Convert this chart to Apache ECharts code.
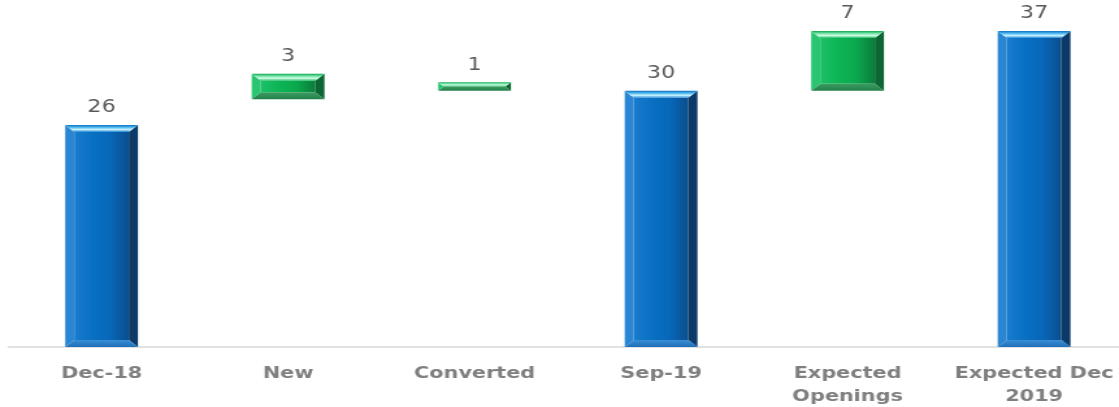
<!DOCTYPE html>
<html>
<head>
<meta charset="utf-8">
<script src="https://cdn.jsdelivr.net/npm/echarts@6/dist/echarts.min.js"></script>
<style>
  html, body { margin: 0; padding: 0; background: #ffffff; overflow: hidden; }
  /* the chart is laid out narrower and widened, giving the broad lettering and bars */
  #chart { width: 861px; height: 407px; transform: scaleX(1.29965); transform-origin: 0 0; }
</style>
</head>
<body>
<div id="chart"></div>
<script>
// Store count walk: opening total, additions, closing totals
const categories = ['Dec-18', 'New', 'Converted', 'Sep-19', 'Expected\nOpenings', 'Expected Dec\n2019'];
const startValues = [0, 29, 30, 0, 30, 0];
const changeValues = [26, 3, 1, 30, 7, 37];
const barKinds = ['total', 'delta', 'delta', 'total', 'delta', 'total'];

const palettes = {
  total: {
    face: ['#1a7ccd', '#0870c3', '#0867b8', '#0a4f8e'],
    left: '#2a86d2',
    right: '#0c3a68',
    top: ['#0f6fc0', '#4cb8f0', '#c9f3ff', '#2386d4'],
    bottom: ['#3a8fd6', '#1f6fb8']
  },
  delta: {
    face: ['#1cc069', '#0db555', '#0aa84d', '#0a7c3b'],
    left: '#2ac571',
    right: '#0c6633',
    top: ['#0da64f', '#6fe2a4', '#d2fde6', '#1dbb62'],
    bottom: ['#3b9d62', '#217f48']
  }
};

function vGrad(stops) {
  return new echarts.graphic.LinearGradient(0, 0, 0, 1,
    stops.map((c, k) => ({ offset: k / (stops.length - 1), color: c })));
}
function hGrad(stops) {
  return new echarts.graphic.LinearGradient(0, 0, 1, 0,
    stops.map((c, k) => ({ offset: k / (stops.length - 1), color: c })));
}

// Bevelled bar drawn from the axis coordinates of its start and end values
function renderBar(params, api) {
  const i = api.value(0);
  const base = api.value(1);
  const change = api.value(2);
  const pal = palettes[barKinds[i]];
  const p0 = api.coord([i, base]);
  const p1 = api.coord([i, base + change]);
  const w = api.size([1, 0])[0] * 0.39;
  const x0 = p0[0] - w / 2, x1 = p0[0] + w / 2;
  const yT = p1[1], yB = p0[1];
  const b = Math.min(7, (yB - yT) / 2);
  return {
    type: 'group',
    children: [
      { type: 'rect', shape: { x: x0 + b, y: yT + b, width: w - 2 * b, height: Math.max(0, yB - yT - 2 * b) },
        style: { fill: hGrad(pal.face) } },
      { type: 'polygon', shape: { points: [[x0, yT], [x0 + b, yT + b], [x0 + b, yB - b], [x0, yB]] },
        style: { fill: pal.left } },
      { type: 'polygon', shape: { points: [[x1, yT], [x1 - b, yT + b], [x1 - b, yB - b], [x1, yB]] },
        style: { fill: pal.right } },
      { type: 'polygon', shape: { points: [[x0, yT], [x1, yT], [x1 - b, yT + b], [x0 + b, yT + b]] },
        style: { fill: vGrad(pal.top) } },
      { type: 'polygon', shape: { points: [[x0 + b, yB - b], [x1 - b, yB - b], [x1, yB], [x0, yB]] },
        style: { fill: vGrad(pal.bottom) } },
      { type: 'text',
        style: { text: String(change), x: p0[0], y: yT - 17,
                 textAlign: 'center', textVerticalAlign: 'middle', align: 'center', verticalAlign: 'middle',
                 fill: '#595959', font: '17px "DejaVu Sans"' } }
    ]
  };
}

const chart = echarts.init(document.getElementById('chart'));
chart.setOption({
  animation: false,
  backgroundColor: '#ffffff',
  grid: { left: 6.4, right: -6.4, top: 31, bottom: 60, containLabel: false, outerBoundsMode: 'none' },
  xAxis: {
    type: 'category',
    data: categories,
    axisLine: { lineStyle: { color: '#d9d9d9', width: 1.5 } },
    axisTick: { show: false },
    axisLabel: {
      interval: 0, color: '#7f7f7f', fontWeight: 'bold', fontSize: 16,
      fontFamily: 'DejaVu Sans', lineHeight: 23, margin: 15
    },
    splitLine: { show: false }
  },
  yAxis: {
    type: 'value', min: 0, max: 37, show: false,
    splitLine: { show: false }
  },
  series: [{
    type: 'custom',
    renderItem: renderBar,
    encode: { x: 0, y: [1, 2] },
    data: categories.map((c, i) => [i, startValues[i], changeValues[i]])
  }]
});
</script>
</body>
</html>
